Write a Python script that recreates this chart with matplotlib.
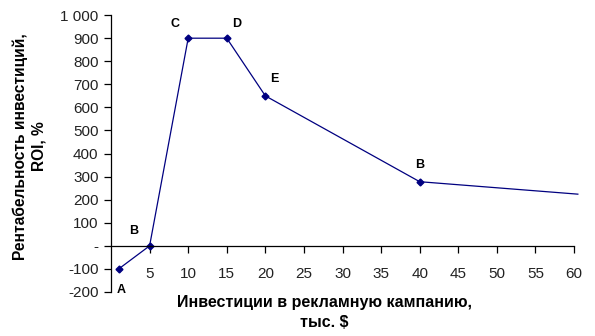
import matplotlib
matplotlib.use("Agg")
import matplotlib.pyplot as plt
from matplotlib.ticker import FixedLocator, FuncFormatter

plt.rcParams['font.family'] = ['Liberation Sans', 'DejaVu Sans']

# Data
x_vals = [1, 5, 10, 15, 20, 40, 60.5]
roi_vals = [-100, 0, 900, 900, 650, 278, 224]
marker_idx = [0, 1, 2, 3, 4, 5]
point_labels = ["A", "B", "C", "D", "E", "B"]
label_pos = [(1.3, -190), (3.0, 65), (8.3, 960), (16.3, 960), (21.2, 725), (40.0, 350)]
x_ticks = [5, 10, 15, 20, 25, 30, 35, 40, 45, 50, 55, 60]
y_ticks = [-200, -100, 0, 100, 200, 300, 400, 500, 600, 700, 800, 900, 1000]

fig = plt.figure(figsize=(5.95, 3.36), dpi=100)
ax = fig.add_axes([0.1866, 0.131, 0.9647 - 0.1866, 0.955 - 0.131])

color = "#000080"
ax.plot(x_vals, roi_vals, color=color, lw=0.9, clip_on=False)
ax.plot([x_vals[i] for i in marker_idx], [roi_vals[i] for i in marker_idx],
        linestyle="none", marker="D", ms=3.5, color=color, clip_on=False)

for (lx, ly), t in zip(label_pos, point_labels):
    ax.text(lx, ly, t, fontsize=9, fontweight="bold", ha="center", va="center")

ax.set_xlim(0, 60)
ax.set_ylim(-200, 1000)

for s in ["top", "right"]:
    ax.spines[s].set_visible(False)
ax.spines["bottom"].set_position(("data", 0))
ax.spines["left"].set_linewidth(0.9)
ax.spines["bottom"].set_linewidth(0.9)

ax.xaxis.set_major_locator(FixedLocator(x_ticks))
ax.yaxis.set_major_locator(FixedLocator(y_ticks))

def yfmt(v, pos):
    v = int(round(v))
    if v == 0:
        return "-"
    s = f"{abs(v):,}".replace(",", " ")
    return ("-" if v < 0 else "") + s

ax.yaxis.set_major_formatter(FuncFormatter(yfmt))
ax.tick_params(axis="x", direction="out", length=5, width=0.9, pad=10, labelsize=11, colors="black")
ax.tick_params(axis="y", direction="out", length=5, width=0.9, pad=4, labelsize=11, colors="black")
for lab in ax.get_xticklabels() + ax.get_yticklabels():
    lab.set_color("#222222")

fig.text(0.545, 0.07, "Инвестиции в рекламную кампанию,\nтыс. $", ha="center", va="center",
         fontsize=11.5, fontweight="bold", linespacing=1.35)
fig.text(0.05, 0.565, "Рентабельность инвестиций,\nROI, %", ha="center", va="center",
         rotation=90, fontsize=11.2, fontweight="bold", linespacing=1.25)

fig.savefig("out.png", dpi=100)
